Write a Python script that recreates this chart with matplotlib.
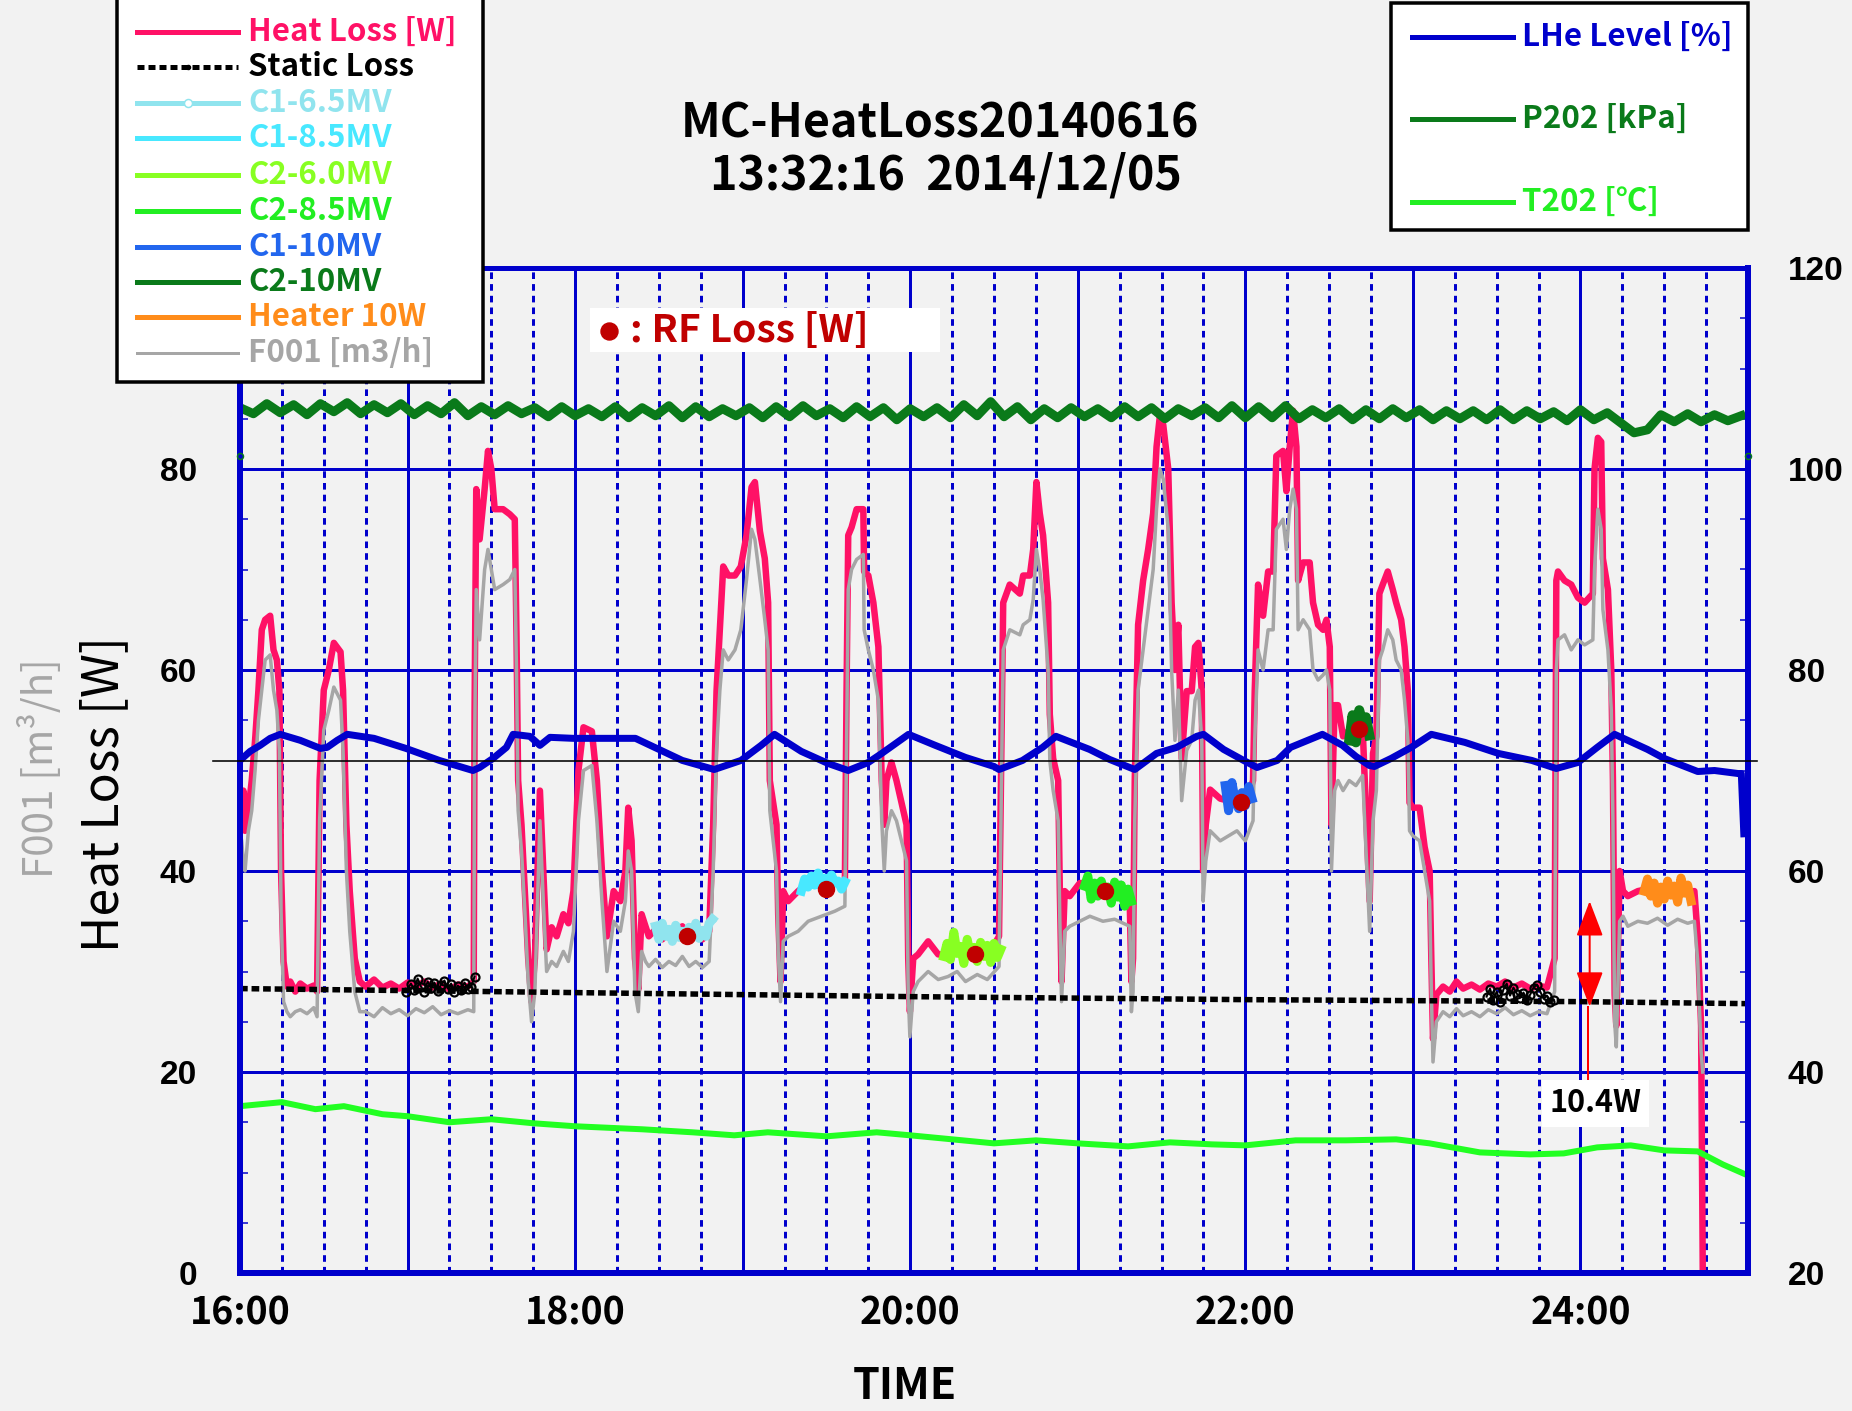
import numpy as np
import matplotlib
matplotlib.use('Agg')
import matplotlib.pyplot as plt
from matplotlib import font_manager
from matplotlib.patches import Rectangle, FancyArrowPatch
from matplotlib.lines import Line2D
from matplotlib.ticker import MultipleLocator, FuncFormatter

JP = ['Noto Sans CJK JP', 'DejaVu Sans']
AR = ['Liberation Sans', 'DejaVu Sans']
plt.rcParams['font.family'] = JP
_names = {f.name for f in font_manager.fontManager.ttflist}
MONO_OK = 'Noto Sans Mono CJK JP' in _names
MONO = ['Noto Sans Mono CJK JP', 'Noto Sans CJK JP', 'DejaVu Sans'] if MONO_OK else JP
if MONO_OK:
    FS = dict(leg=22.5, ylab=33, f001=25, time=31, xt=26, rf=26, ann=23)
else:
    FS = dict(leg=22.5, ylab=36, f001=29, time=31, xt=27, rf=28, ann=22)

# ---------------- data (time in hours) ----------------
hl_t = [16.00, 16.01, 16.02, 16.03, 16.05, 16.07, 16.09, 16.11, 16.13, 16.15, 16.18, 16.20, 16.22, 16.235, 16.245,
        16.26, 16.28, 16.30, 16.33, 16.36, 16.40, 16.44, 16.46, 16.475, 16.50, 16.53, 16.56, 16.60, 16.615, 16.635,
        16.655, 16.685, 16.715,
        16.75, 16.80, 16.85, 16.90, 16.95, 17.00, 17.05, 17.10, 17.15, 17.20, 17.25, 17.30, 17.36, 17.395,
        17.40, 17.41, 17.43, 17.46, 17.48, 17.50, 17.52, 17.57, 17.61, 17.64, 17.65, 17.66, 17.68, 17.70, 17.72,
        17.74, 17.76, 17.79, 17.81, 17.83, 17.86, 17.89, 17.93, 17.96, 17.99, 18.02, 18.05, 18.10, 18.13, 18.16,
        18.19, 18.23, 18.27, 18.30, 18.317, 18.337, 18.357, 18.377, 18.397, 18.42, 18.44, 18.48, 18.52, 18.56,
        18.60, 18.64, 18.68, 18.72, 18.76, 18.80,
        18.824, 18.844, 18.864, 18.884, 18.914, 18.954, 18.989, 19.023, 19.053, 19.073, 19.103, 19.132, 19.152,
        19.162, 19.182, 19.202, 19.212, 19.226, 19.242, 19.272, 19.331, 19.391, 19.471, 19.55, 19.61,
        19.62, 19.63, 19.65, 19.68, 19.72, 19.725, 19.75, 19.78, 19.81, 19.83, 19.845, 19.858, 19.888, 19.918,
        19.948, 19.978, 19.988, 19.998, 20.018, 20.047, 20.107, 20.167, 20.226, 20.28, 20.33, 20.40, 20.46, 20.53,
        20.555, 20.594, 20.654, 20.674, 20.714, 20.734, 20.753, 20.773, 20.793, 20.823, 20.833, 20.853, 20.883,
        20.893, 20.903, 20.922, 20.952, 21.012, 21.072, 21.15, 21.22, 21.31, 21.32, 21.33,
        21.34, 21.36, 21.39, 21.42, 21.45, 21.47, 21.49, 21.51, 21.54, 21.56, 21.58, 21.60, 21.62, 21.65, 21.68,
        21.70, 21.72, 21.74, 21.748, 21.764, 21.79, 21.85, 21.90, 21.95, 22.00, 22.046,
        22.056, 22.076, 22.106, 22.136, 22.166, 22.185, 22.225, 22.245, 22.265, 22.285, 22.305, 22.315, 22.345,
        22.384, 22.404, 22.434, 22.464, 22.484, 22.504, 22.514, 22.533, 22.553, 22.583, 22.62, 22.66, 22.70,
        22.742, 22.762, 22.782, 22.80, 22.82, 22.85, 22.88, 22.90, 22.93, 22.95, 22.97, 22.98, 23.00, 23.04,
        23.07, 23.10, 23.11, 23.12, 23.14, 23.18, 23.22, 23.26, 23.30, 23.35, 23.40, 23.45, 23.50, 23.55, 23.60,
        23.65, 23.70, 23.75, 23.80, 23.846,
        23.856, 23.866, 23.905, 23.945, 23.985, 24.025, 24.074, 24.084, 24.104, 24.124, 24.134, 24.164, 24.184,
        24.194, 24.204, 24.214, 24.234, 24.254, 24.283, 24.343, 24.40, 24.46, 24.52, 24.58, 24.64, 24.68, 24.70,
        24.72, 24.73]

heat_loss = [47, 45, 48, 44, 46, 49, 53, 58, 64, 65, 65.4, 62, 61, 58, 40,
             31, 28.5, 29, 28, 28.8, 28.3, 28.6, 28, 49, 58, 60, 62.7, 61.8, 58, 44.6,
             38, 31.3, 29,
             28.5, 29.2, 28.4, 28.8, 28.3, 28.9, 28.5, 29, 28.4, 28.8, 28.2, 28.7, 28.5, 29,
             56, 78, 73, 78, 81.8, 80, 76, 76, 75.5, 75, 63.6, 49, 44.6, 38, 31.3,
             27, 31.3, 48, 40, 32.2, 34.4, 33.5, 35.7, 34.8, 38, 50, 54.3, 53.9, 49, 40,
             33.5, 38, 37, 40, 46.3, 43, 31.3, 28.2, 35.7, 34.5, 33.5, 34.2, 33.2, 34,
             33.4, 34.5, 33.5, 34, 33.2, 34,
             44.6, 57.9, 64, 70.3, 69.4, 69.4, 70.3, 73.4, 78.2, 78.7, 73.8, 71.1, 66.7,
             49, 46.8, 44.6, 35.7, 29, 38, 37, 38, 38.8, 38.5, 38.8, 38.8,
             57.9, 73.4, 74.2, 76, 76, 69.8, 69.4, 66.7, 62.3, 49, 44.6, 49, 50.8, 49,
             46.8, 44.6, 31.3, 26, 31.3, 31.7, 33, 31.7, 31.7, 32.5, 31.5, 32.2, 31.5, 33.5,
             66.7, 68.5, 67.6, 69.4, 69.4, 72, 78.7, 75.6, 73.4, 66.7, 55.6, 51.2, 49,
             38, 29, 38, 37.5, 38.8, 38.8, 37.5, 38, 37, 29, 31.3,
             49, 64.5, 68.9, 72, 75.6, 82.2, 85.3, 84.4, 80, 66.7, 60, 64.5, 51.2, 57.9, 57.9,
             62.3, 62.7, 57.9, 40, 44.6, 48.1, 47.2, 47, 47.5, 46.5, 49,
             57.9, 68.5, 65.4, 69.8, 69.8, 81.3, 81.8, 77.8, 82.2, 85.8, 82.2, 68.9, 70.7,
             70.7, 66.7, 64.5, 64, 65, 62.3, 44.6, 56.5, 56.5, 53.4, 54, 53, 54.3,
             37, 51.7, 53.4, 67.6, 68.5, 69.8, 68, 66.7, 65, 62.3, 57.9, 46.8, 46.3, 46.3,
             42.4, 40, 31.3, 23.3, 27.7, 28.5, 28, 29, 28.3, 28.7, 28.2, 28.8, 28.5, 29, 28.4,
             28.8, 28.3, 28.6, 28.4, 31.3,
             68.9, 69.8, 68.9, 68.5, 67.2, 66.7, 67.6, 80, 83.1, 82.7, 71.1, 68, 60,
             49, 27.7, 24.6, 40, 38, 37.5, 38, 38.2, 37.8, 38.3, 37.6, 37.9, 38, 33.5,
             24.6, 0]

f001 = [44, 43, 41, 40, 44, 46, 50, 55, 58, 61, 61.5, 58, 56, 52, 36,
        27, 26, 25.5, 26, 26.2, 25.8, 26.4, 25.5, 45, 54, 56, 58.3, 57, 52, 40,
        34, 28, 26,
        26, 25.5, 26.4, 25.8, 26.2, 25.6, 26.3, 25.9, 26.5, 25.7, 26.1, 25.8, 26.2, 26,
        52, 68, 63, 70, 72, 70, 68, 68.5, 69, 70, 60, 46, 42, 36, 29,
        25, 28, 45, 37, 30, 31, 30.5, 32, 31, 34, 45, 50, 50.5, 45, 37,
        30, 35, 34, 37, 42, 40, 28, 26, 32, 31, 30.5, 31.2, 30.4, 31,
        30.6, 31.5, 30.5, 31, 30.4, 31,
        40, 52, 58, 62, 61, 62, 64, 69, 74, 73, 69, 65, 62,
        46, 43, 40, 32, 27, 33, 33.5, 34, 35, 35.5, 36, 36.5,
        52, 68, 70, 71, 71.5, 64, 62, 60, 57, 45, 40, 44, 46, 45,
        43, 41, 28, 23.5, 28, 29, 30, 29.2, 29.5, 30, 29, 29.7, 29.2, 30.5,
        62, 64, 63.5, 64.5, 65, 67, 72, 70, 67, 60, 51, 48, 45,
        35, 27, 34, 34.5, 35, 35.5, 35, 35.2, 34.5, 26, 28,
        45, 58, 62, 66, 70, 76, 80, 79, 74, 60, 53, 58, 47, 52, 53,
        57, 58, 53, 37, 41, 44, 43, 43.5, 44, 43, 45,
        53, 62, 60, 64, 64, 74, 75, 72, 76, 78, 76, 64, 65,
        64, 60, 59, 59.5, 60, 58, 40, 48, 49, 48, 49, 48.5, 49.5,
        34, 45, 48, 61, 62, 64, 63, 61, 60, 57, 53, 44, 43.5, 43,
        40, 37, 28, 21, 25, 26, 25.5, 26.3, 25.6, 26, 25.5, 26.2, 25.8, 26.4, 25.7,
        26.1, 25.6, 26, 25.8, 28,
        60, 63, 63.5, 62, 63, 62.5, 63, 70, 76, 74, 66, 62, 56,
        45, 25, 22.5, 35, 35.5, 34.5, 35, 34.8, 35.3, 34.6, 35.2, 34.8, 35, 31,
        22, 20]

static_t = [16.0, 18.0, 20.0, 22.0, 24.0, 25.0]
static_v = [28.3, 27.9, 27.5, 27.2, 27.0, 26.8]

static_meas_t = [16.99, 17.02, 17.04, 17.06, 17.08, 17.10, 17.12, 17.14, 17.16, 17.18, 17.20, 17.22, 17.24,
                 17.26, 17.28, 17.30, 17.32, 17.34, 17.36, 17.38, 17.40, np.nan,
                 23.44, 23.46, 23.48, 23.50, 23.52, 23.54, 23.56, 23.58, 23.60, 23.62, 23.64, 23.66, 23.68,
                 23.70, 23.72, 23.74, 23.76, 23.78, 23.80, 23.82, 23.84]
static_meas_v = [28.0, 28.8, 28.2, 29.3, 28.5, 28.0, 29.0, 28.4, 28.9, 28.1, 28.7, 29.1, 28.3,
                 28.8, 28.0, 28.6, 28.2, 28.9, 28.3, 28.5, 29.5, np.nan,
                 27.5, 28.3, 27.2, 28.0, 27.0, 28.2, 28.8, 27.6, 28.4, 27.8, 27.4, 27.9, 27.2,
                 27.7, 28.4, 28.7, 28.0, 27.3, 27.6, 27.0, 27.2]

c1_65_t = [18.48, 18.50, 18.52, 18.54, 18.56, 18.58, 18.60, 18.62, 18.64, 18.66, 18.68, 18.70, 18.72, 18.74,
           18.76, 18.78, 18.80, 18.82]
c1_65_v = [34.5, 33.2, 34.8, 33.5, 34.2, 33.0, 34.6, 33.4, 34.0, 33.2, 34.4, 33.6, 34.8, 33.3,
           34.1, 33.5, 34.8, 35.2]
c1_85_t = [19.35, 19.37, 19.39, 19.41, 19.43, 19.45, 19.47, 19.49, 19.51, 19.53, 19.55, 19.57, 19.59, 19.61]
c1_85_v = [38.0, 39.2, 38.4, 39.5, 38.6, 39.8, 38.9, 39.3, 38.5, 39.6, 38.8, 39.0, 38.2, 38.9]
c2_60_t = [20.20, 20.22, 20.24, 20.26, 20.28, 20.30, 20.32, 20.34, 20.36, 20.38, 20.40, 20.42, 20.44, 20.46,
           20.48, 20.50, 20.52, 20.54]
c2_60_v = [31.5, 32.8, 31.2, 33.9, 31.8, 32.5, 30.8, 33.2, 31.6, 32.4, 31.0, 32.9, 31.5, 32.6,
           30.9, 32.8, 31.4, 32.2]
c2_85_t = [21.04, 21.06, 21.08, 21.10, 21.12, 21.14, 21.16, 21.18, 21.20, 21.22, 21.24, 21.26, 21.28, 21.30, 21.32]
c2_85_v = [38.5, 39.5, 37.2, 38.8, 37.5, 39.0, 37.8, 38.4, 36.8, 38.9, 37.4, 38.6, 36.5, 38.2, 37.0]
c1_10_t = [21.88, 21.90, 21.92, 21.94, 21.96, 21.98, 22.00, 22.02, 22.04]
c1_10_v = [48.5, 46.0, 48.8, 47.0, 46.2, 47.8, 46.5, 48.4, 47.2]
c2_10_t = [22.62, 22.64, 22.66, 22.68, 22.70, 22.72, 22.74]
c2_10_v = [53.0, 55.5, 52.8, 56.0, 54.2, 55.3, 53.5]
heater_t = [24.38, 24.40, 24.42, 24.44, 24.46, 24.48, 24.50, 24.52, 24.54, 24.56, 24.58, 24.60, 24.62, 24.64, 24.66]
heater_v = [38.0, 39.2, 37.5, 38.8, 36.8, 38.4, 37.2, 39.0, 37.6, 38.5, 36.9, 39.3, 37.8, 38.6, 37.0]

rf_t = [18.665, 19.50, 20.385, 21.16, 21.977, 22.68]
rf_v = [33.5, 38.2, 31.7, 38.0, 46.9, 54.1]

lhe_t = [16.0, 16.06, 16.12, 16.18, 16.24, 16.36, 16.48, 16.52, 16.58, 16.64, 16.80, 16.99, 17.19, 17.39,
         17.43, 17.51, 17.59, 17.63, 17.73, 17.79, 17.85, 17.99, 18.27, 18.36, 18.50, 18.64, 18.83, 18.99,
         19.11, 19.19, 19.35, 19.51, 19.63, 19.75, 19.83, 19.99, 20.15, 20.33, 20.5, 20.53, 20.67, 20.79,
         20.87, 21.07, 21.19, 21.34, 21.47, 21.59, 21.71, 21.75, 21.87, 21.99, 22.07, 22.19, 22.27, 22.46,
         22.58, 22.66, 22.74, 22.77, 22.87, 22.99, 23.11, 23.31, 23.51, 23.71, 23.856, 23.985, 24.10, 24.204,
         24.40, 24.50, 24.70, 24.80, 24.94, 24.96, 24.975]
lhe_v = [71.0, 71.9, 72.5, 73.2, 73.6, 73.0, 72.2, 72.3, 73.0, 73.6, 73.2, 72.2, 71.0, 70.0,
         70.3, 71.2, 72.3, 73.6, 73.4, 72.5, 73.3, 73.2, 73.2, 73.2, 72.1, 71.0, 70.1, 71.0,
         72.5, 73.6, 71.9, 70.7, 70.0, 70.8, 71.7, 73.6, 72.5, 71.3, 70.4, 70.1, 71.0, 72.3,
         73.4, 72.1, 71.1, 70.1, 71.7, 72.3, 73.4, 73.6, 72.1, 71.0, 70.3, 71.0, 72.3, 73.6,
         72.5, 71.4, 70.5, 70.4, 71.2, 72.3, 73.6, 72.8, 71.7, 71.0, 70.2, 70.8, 72.3, 73.6,
         72.1, 71.2, 69.9, 70.0, 69.7, 69.7, 63.7]

p202_v = [106.1, 105.5, 106.5, 105.6, 106.4, 105.4, 106.5, 105.7, 106.6, 105.5,
          106.4, 105.6, 106.5, 105.4, 106.3, 105.5, 106.6, 105.3, 106.2, 105.4,
          106.3, 105.5, 106.1, 105.2, 106.2, 105.3, 106.0, 105.2, 106.2, 105.1,
          106.1, 105.3, 106.3, 105.1, 106.2, 105.2, 106.0, 105.3, 106.1, 105.1,
          106.2, 105.2, 106.3, 105.3, 106.0, 105.1, 106.2, 105.2, 106.1, 104.9,
          106.0, 105.2, 106.1, 105.1, 106.4, 105.3, 106.7, 105.2, 106.2, 104.9,
          106.0, 105.1, 106.1, 105.2, 106.0, 105.1, 106.2, 105.2, 106.1, 105.0,
          106.0, 105.3, 106.1, 105.1, 106.3, 105.1, 106.2, 105.1, 106.3, 105.0,
          105.9, 105.1, 106.0, 104.9, 105.9, 105.0, 106.0, 105.1, 105.9, 104.9,
          105.8, 105.0, 105.8, 104.9, 105.9, 104.9, 105.8, 105.0, 105.7, 104.8,
          105.9, 104.9, 105.6, 104.6, 103.6, 103.9, 105.4, 104.7, 105.5, 104.7,
          105.4, 104.8, 105.3]
p202_t = np.linspace(16.0, 24.96, len(p202_v))
p202_edge_t = [16.0, 25.0]
p202_edge_v = [101.3, 101.3]

t202_t = [16.00, 16.25, 16.45, 16.62, 16.85, 17.00, 17.25, 17.50, 17.75, 18.00, 18.40, 18.70, 18.95, 19.15,
          19.50, 19.80, 20.00, 20.25, 20.50, 20.75, 21.00, 21.30, 21.55, 21.80, 22.00, 22.30, 22.60, 22.90,
          23.10, 23.40, 23.70, 23.90, 24.10, 24.30, 24.50, 24.70, 24.85, 25.00]
t202_v = [36.6, 37.0, 36.3, 36.6, 35.8, 35.6, 35.0, 35.3, 34.9, 34.6, 34.3, 34.0, 33.7, 34.0,
          33.6, 34.0, 33.7, 33.3, 32.9, 33.2, 32.9, 32.6, 33.0, 32.8, 32.7, 33.2, 33.2, 33.3,
          32.9, 32.0, 31.8, 31.9, 32.5, 32.7, 32.2, 32.1, 30.8, 29.7]

lhe_ref_level = 70.9
arrow_t = 24.055
arrow_lo, arrow_hi = 26.5, 37.0
arrow_label = '10.4W'

# ---------------- styling ----------------
W, H = 1852, 1411
DPI = 100
def pt(px): return px * 72.0 / DPI
def fx(px): return px / W
def fy(py): return 1 - py / H

BG = '#F2F2F2'
BLUE = '#0000CC'
PINK = '#FF1166'
GRAY = '#A6A6A6'
DKGREEN = '#0A7A1A'
LIME = '#22FF22'
C165 = '#90E4EE'
C185 = '#48E8FF'
C260 = '#88FF22'
C285 = '#22EE22'
C110 = '#2266EE'
HEAT = '#FF8C1A'
RF = '#C00000'

fig = plt.figure(figsize=(W / DPI, H / DPI), dpi=DPI, facecolor=BG)
L, R, T, B = 240, 1748, 268, 1273
ax = fig.add_axes([fx(L), fy(B), fx(R) - fx(L), fy(T) - fy(B)])
ax.set_facecolor(BG)
ax2 = ax.twinx()
ax.set_xlim(16, 25)
ax.set_ylim(0, 100)
ax2.set_ylim(20, 120)

ax.set_axisbelow(True)
ax.xaxis.set_major_locator(MultipleLocator(1))
ax.xaxis.set_minor_locator(MultipleLocator(0.25))
ax.yaxis.set_major_locator(MultipleLocator(20))
ax.yaxis.set_minor_locator(MultipleLocator(5))
ax2.yaxis.set_major_locator(MultipleLocator(20))
ax2.yaxis.set_minor_locator(MultipleLocator(5))
ax.xaxis.set_major_formatter(FuncFormatter(
    lambda v, p: f"{int(round(v))}:00" if (int(round(v)) % 2 == 0 and v < 24.5) else ""))
ax.yaxis.set_major_formatter(FuncFormatter(lambda v, p: "" if v > 90 else f"{v:.0f}"))
ax2.yaxis.set_major_formatter(FuncFormatter(lambda v, p: f"{v:.0f}"))

ax.grid(True, which='major', axis='both', color=BLUE, lw=pt(3))
ax.grid(True, which='minor', axis='x', color=BLUE, lw=pt(3), ls=(0, (2.2, 1.7)))
ax2.grid(False)

ax.tick_params(axis='x', which='both', length=0, pad=15, labelsize=FS['xt'])
ax.tick_params(axis='y', which='major', direction='in', length=0, pad=pt(43), labelsize=24)
ax.tick_params(axis='y', which='minor', direction='in', length=pt(8), width=pt(1.5), color=BLUE)
ax2.tick_params(axis='y', which='major', direction='in', length=0, pad=pt(40), labelsize=24)
ax2.tick_params(axis='y', which='minor', direction='in', length=pt(8), width=pt(1.5), color=BLUE)

for a in (ax, ax2):
    for side, s in a.spines.items():
        s.set_color(BLUE)
        s.set_linewidth(pt(6) if side != 'top' else pt(5))
        s.set_zorder(20)

# left axis series
n = min(len(hl_t), len(heat_loss), len(f001))
ax.plot(hl_t[:n], heat_loss[:n], color=PINK, lw=pt(6.5), zorder=3)
ax.plot(hl_t[:n], f001[:n], color=GRAY, lw=pt(3.5), zorder=4)
ax.plot(c1_65_t, c1_65_v, color=C165, lw=pt(9), marker='o', ms=pt(6), mfc='none', mec=C165, zorder=5)
ax.plot(c1_85_t, c1_85_v, color=C185, lw=pt(9), zorder=5)
ax.plot(c2_60_t, c2_60_v, color=C260, lw=pt(9), zorder=5)
ax.plot(c2_85_t, c2_85_v, color=C285, lw=pt(9), zorder=5)
ax.plot(c1_10_t, c1_10_v, color=C110, lw=pt(9), zorder=5)
ax.plot(c2_10_t, c2_10_v, color=DKGREEN, lw=pt(10), zorder=5)
ax.plot(heater_t, heater_v, color=HEAT, lw=pt(9), zorder=5)
ax.plot(static_t, static_v, color='black', lw=pt(5.5), ls=(0, (1.4, 0.7)), zorder=6)
ax.plot(static_meas_t, static_meas_v, color='black', lw=pt(2), marker='o', ms=pt(8),
        mfc='none', mec='black', mew=pt(2.2), zorder=6)
ax.plot(rf_t, rf_v, 'o', color=RF, ms=pt(16), zorder=7)

# right axis series
ax2.plot(t202_t, t202_v, color=LIME, lw=pt(6), zorder=3)
ax2.plot(lhe_t, lhe_v, color=BLUE, lw=pt(7), zorder=3)
ax2.plot(p202_t, p202_v, color=DKGREEN, lw=pt(9), zorder=3)
ax2.plot(p202_edge_t, p202_edge_v, 'o', ms=pt(6), mfc='none', mec=DKGREEN, mew=pt(1.5),
         clip_on=False, zorder=21)
ax2.plot([-0.018, 1.006], [lhe_ref_level, lhe_ref_level], transform=ax2.get_yaxis_transform(),
         color='black', lw=pt(1.6), clip_on=False, zorder=22)

# RF loss label box
ax2.add_patch(Rectangle((18.09, 91.6), 2.09, 4.4, transform=ax.transData,
                        facecolor='white', edgecolor='none', zorder=8))
ax2.plot([18.2], [93.7], 'o', color=RF, ms=pt(17), transform=ax.transData, zorder=9)
ax2.text(18.33, 93.8, ': RF Loss [W]', transform=ax.transData, color=RF, fontsize=FS['rf'],
         fontweight='bold', family=MONO, ha='left', va='center', zorder=9)

# arrow annotation
ax2.plot([arrow_t - 0.01, arrow_t - 0.01], [18.9, arrow_lo], transform=ax.transData,
         color='#FF0000', lw=pt(2), zorder=9)
ax2.add_patch(FancyArrowPatch((arrow_t, arrow_lo), (arrow_t, arrow_hi), transform=ax.transData,
                              arrowstyle='<|-|>,head_length=1.1,head_width=0.42', mutation_scale=20,
                              color='#FF0000', lw=pt(2), shrinkA=0, shrinkB=0, zorder=9))
ax2.text(24.09, 16.9, arrow_label, transform=ax.transData, ha='center', va='center',
         fontsize=FS['ann'], family=MONO, fontweight='bold', color='black', zorder=10,
         bbox=dict(boxstyle='square,pad=0.25', facecolor='white', edgecolor='none'))

# tick label fonts
plt.setp(ax.get_xticklabels(), fontweight='bold', fontfamily=MONO)
plt.setp(ax.get_yticklabels(), fontweight='bold', fontfamily=AR)
plt.setp(ax2.get_yticklabels(), fontweight='bold', fontfamily=AR)

# titles and axis labels
fig.text(fx(940), fy(138), 'MC-HeatLoss20140616', ha='center', va='baseline', fontsize=33.5,
         fontweight='bold')
fig.text(fx(946), fy(190), '13:32:16  2014/12/05', ha='center', va='baseline', fontsize=33.5,
         fontweight='bold')
fig.text(fx(104), fy(794), 'Heat Loss [W]', rotation=90, ha='center', va='center',
         fontsize=FS['ylab'], family=MONO)
fig.text(fx(40), fy(768), 'F001 [m³/h]', rotation=90, ha='center', va='center', fontsize=FS['f001'],
         family=MONO, color=GRAY)
fig.text(fx(905), fy(1386), 'TIME', ha='center', va='center', fontsize=FS['time'], family=MONO,
         fontweight='bold')

# legends
def box(x0, y0, x1, y1):
    fig.add_artist(Rectangle((fx(x0), fy(y1)), fx(x1) - fx(x0), fy(y0) - fy(y1),
                             transform=fig.transFigure, facecolor='white', edgecolor='black',
                             lw=pt(3.5), zorder=30))

def entry(x0, x1, xt, y, label, color, lw, ls='-', marker=None, mfc=None):
    fig.add_artist(Line2D([fx(x0), fx(x1)], [fy(y), fy(y)], transform=fig.transFigure,
                          color=color, lw=pt(lw), ls=ls, zorder=31))
    if marker:
        fig.add_artist(Line2D([fx((x0 + x1) / 2)], [fy(y)], transform=fig.transFigure,
                              color=color, marker=marker, ms=pt(8), mfc=mfc, mec=color,
                              mew=pt(1.5), zorder=32))
    fig.text(fx(xt), fy(y), label, color=color, fontsize=FS['leg'], fontweight='bold', family=MONO,
             ha='left', va='center', zorder=32)

box(117, -10, 483, 382)
leg1 = [('Heat Loss [W]', PINK, 5, '-', None, None),
        ('Static Loss', 'black', 5, (0, (1.4, 0.8)), '.', 'black'),
        ('C1-6.5MV', C165, 5, '-', 'o', 'white'),
        ('C1-8.5MV', C185, 5, '-', None, None),
        ('C2-6.0MV', C260, 5, '-', None, None),
        ('C2-8.5MV', C285, 5, '-', None, None),
        ('C1-10MV', C110, 5, '-', None, None),
        ('C2-10MV', DKGREEN, 5, '-', None, None),
        ('Heater 10W', HEAT, 5, '-', None, None),
        ('F001 [m3/h]', GRAY, 3, '-', None, None)]
rows1 = [32, 67, 103, 138, 175, 211, 247, 282, 317, 353]
for (lab, c, lw, ls, mk, mf), y in zip(leg1, rows1):
    entry(137, 238, 248, y, lab, c, lw, ls, mk, mf)

box(1391, 3, 1748, 230)
leg2 = [('LHe Level [%]', BLUE), ('P202 [kPa]', DKGREEN), ('T202 [℃]', C285)]
rows2 = [37, 119, 202]
for (lab, c), y in zip(leg2, rows2):
    entry(1412, 1513, 1522, y, lab, c, 5)

fig.savefig('out.png', dpi=DPI, facecolor=BG)
